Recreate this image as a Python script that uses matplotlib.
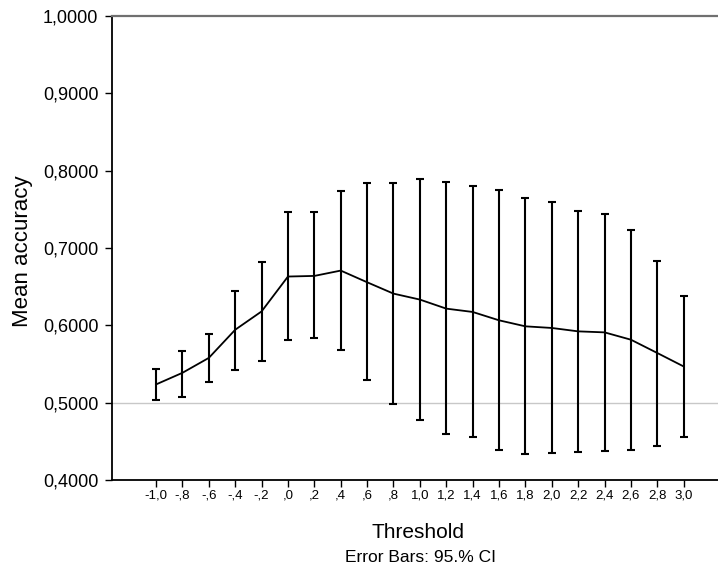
"""
Mean accuracy by threshold, with 95% CI error bars
"""

import matplotlib
matplotlib.use("Agg")
import matplotlib.pyplot as plt
import numpy as np

thresholds = ["-1,0", "-,8", "-,6", "-,4", "-,2", ",0", ",2", ",4", ",6", ",8",
              "1,0", "1,2", "1,4", "1,6", "1,8", "2,0", "2,2", "2,4", "2,6", "2,8", "3,0"]
mean_acc = [0.5236, 0.5386, 0.5579, 0.5943, 0.6180, 0.6631, 0.6639, 0.6708, 0.6557, 0.6410,
            0.6333, 0.6216, 0.6173, 0.6065, 0.5987, 0.5966, 0.5922, 0.5909, 0.5814, 0.5642, 0.5468]
ci_upper = [0.5434, 0.5672, 0.5888, 0.6449, 0.6817, 0.7464, 0.7460, 0.7736, 0.7845, 0.7836,
            0.7888, 0.7853, 0.7797, 0.7745, 0.7646, 0.7589, 0.7477, 0.7434, 0.7231, 0.6829, 0.6376]
ci_lower = [0.5037, 0.5067, 0.5261, 0.5425, 0.5542, 0.5805, 0.5831, 0.5685, 0.5296, 0.4985,
            0.4778, 0.4592, 0.4553, 0.4389, 0.4337, 0.4350, 0.4367, 0.4376, 0.4389, 0.4445, 0.4562]

plt.rcParams["font.family"] = ["Liberation Sans", "DejaVu Sans"]

W, H = 718, 566
fig = plt.figure(figsize=(W / 100, H / 100), dpi=100)
ax = fig.add_axes([112 / W, 1 - 480 / H, (W - 112) / W, (480 - 16) / H])

x = np.arange(len(thresholds))
mean = np.array(mean_acc)
yerr = [mean - np.array(ci_lower), np.array(ci_upper) - mean]

ax.axhline(0.5, color="#c8c8c8", lw=1, zorder=0)
ax.plot(x, mean, color="black", lw=1.3)
ax.errorbar(x, mean, yerr=yerr, fmt="none", ecolor="black", elinewidth=1.5,
            capsize=2.7, capthick=1.5)

ax.set_xlim(-1.67, 21.3)
ax.set_ylim(0.4, 1.0)
ax.set_xticks(x)
ax.set_xticklabels(thresholds, fontsize=9.5)
yt = np.arange(0.4, 1.01, 0.1)
ax.set_yticks(yt)
ax.set_yticklabels([f"{v:.4f}".replace(".", ",") for v in yt], fontsize=13)
ax.tick_params(axis="x", length=5, width=1, pad=1.5)
ax.tick_params(axis="y", length=5, width=1, pad=4.8)

ax.spines["right"].set_visible(False)
ax.spines["top"].set_color("#707070")
ax.spines["top"].set_linewidth(1.6)
ax.spines["left"].set_linewidth(1.3)
ax.spines["bottom"].set_linewidth(1.3)

fig.text(22.8 / W, 1 - 251.5 / H, "Mean accuracy", fontsize=16, rotation=90,
         ha="center", va="center")
fig.text(418 / W, 1 - 538 / H, "Threshold", fontsize=15, ha="center", va="baseline")
fig.text(420 / W, 1 - 561.5 / H, "Error Bars: 95.% CI", fontsize=12.5, ha="center",
         va="baseline")

fig.savefig("out.png", dpi=100)
